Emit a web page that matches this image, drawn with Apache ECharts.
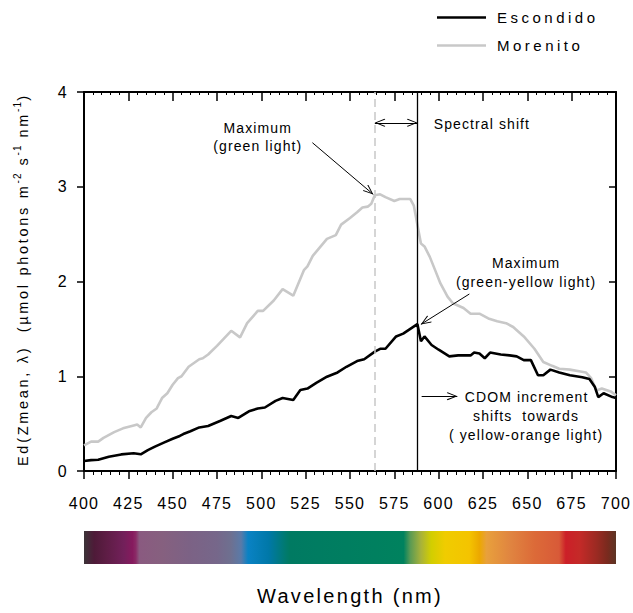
<!DOCTYPE html>
<html><head><meta charset="utf-8">
<script src="https://cdn.jsdelivr.net/npm/echarts@6/dist/echarts.min.js"></script>
<style>
html,body{margin:0;padding:0;background:#fff;}
#chart{width:633px;height:613px;}
#chart text[style*="15px"]{letter-spacing:3.5px;}
#chart text[style*="16px"]{letter-spacing:1.3px;}
#chart text[style*=" 14px"]{letter-spacing:1.1px;}
#chart text[style*="20px"]{letter-spacing:2.3px;}
#chart text[style*="14.5px"]{letter-spacing:2.7px;}
#chart text[style*="10px"]{letter-spacing:1.2px;}
</style>
</head><body><div id="chart"></div>
<script>
// ---- data ----
const xTicks = [400,425,450,475,500,525,550,575,600,625,650,675,700];
const yTicks = [0,1,2,3,4];

const escondidoWl = [400,404,408,414,421,428,432,436,440,445,450,454,456,460,465,470,477,483,487,493,498,502,508,512,518,522,526,531,537,543,548,554,558,564,567,570,576,580,584,588,590,592,596,600,606,611,618,620,623,626,629,635,640,644,648,652,656,659,663,668,674,681,685,688,690,693,698,700];
const escondidoEd = [0.105,0.115,0.118,0.15,0.175,0.187,0.176,0.22,0.257,0.30,0.34,0.37,0.39,0.42,0.46,0.475,0.53,0.58,0.56,0.63,0.66,0.67,0.74,0.77,0.75,0.855,0.87,0.93,0.995,1.04,1.10,1.16,1.18,1.26,1.29,1.29,1.42,1.45,1.50,1.55,1.37,1.42,1.33,1.28,1.21,1.22,1.22,1.25,1.24,1.19,1.25,1.23,1.22,1.21,1.17,1.17,1.01,1.01,1.07,1.04,1.01,0.99,0.97,0.89,0.78,0.82,0.78,0.77];

const morenitoWl = [400,404,408,411,417,422,428,430,432,435,438,441,444,447,450,453,455,459,465,467,470,475,483,488,492,498,501,507,512,518,524,526,529,533,537,542,545,550,554,557,560,562,564,567,570,575,578,584,586,588,590,592,595,598,601,605,608,614,618,623,628,633,638,642,648,654,659,664,668,674,680,683,686,689,692,697,700];
const morenitoEd = [0.27,0.31,0.31,0.35,0.41,0.45,0.48,0.49,0.46,0.56,0.62,0.66,0.77,0.82,0.91,0.98,1.00,1.10,1.18,1.19,1.23,1.32,1.48,1.41,1.56,1.69,1.69,1.80,1.92,1.85,2.12,2.16,2.27,2.36,2.45,2.49,2.60,2.67,2.73,2.78,2.79,2.82,2.91,2.92,2.89,2.85,2.87,2.87,2.80,2.60,2.40,2.37,2.26,2.12,1.98,1.84,1.77,1.72,1.66,1.66,1.61,1.58,1.56,1.52,1.42,1.29,1.15,1.11,1.08,1.07,1.05,1.04,0.98,0.85,0.87,0.84,0.80];

// peak markers (nm)
const greenPeakWl = 564;
const yellowPeakWl = 588;

// spectrum colour bar stops
const spectrumWl = [400,405.8,412.7,422.4,427.3,429.2,431.2,443.8,459.4,475,482.8,488.6,492.5,504.2,514,516,580.2,584,590,595.8,603.6,617.2,623,627,640.6,654.2,667.9,671.7,679.5,689.3,695.1,700];
const spectrumColor = ['#3c3438','#4e1a38','#5e1d45','#72205a','#861a5e','#8a2a66','#8a5a80','#86607f','#7c6285','#76678a','#6e7090','#5a7aa8','#0a82c4','#0078a8','#007a6c','#007a62','#00825e','#5a9a54','#a8b23a','#d2ce00','#f0cc00','#f4c400','#eca800','#e8a03c','#e08440','#dc6a38','#d85a38','#cc1f28','#c42a28','#9a2a22','#7a2a1e','#5c3424'];

// annotations (anchor in nm / Ed units)
const annotText = ['Maximum','(green light)','Spectral shift','Maximum','(green-yellow light)','CDOM increment','shifts  towards','( yellow-orange light)'];
const annotWl = [498,498,624.4,649.3,649.3,649.6,649.3,649.3];
const annotEd = [3.625,3.43,3.667,2.2,2.0,0.78,0.58,0.375];

// arrows: from -> to (nm, Ed)
const arrowFrom = [[528.8,3.465],[564,3.675],[617.3,1.868],[590.4,0.79]];
const arrowTo   = [[563.1,2.92],[588,3.675],[590.0,1.548],[610.5,0.79]];
const arrowBoth = [false,true,false,false];

// ---- chart ----
const FONT = 'Liberation Sans';
const chart = echarts.init(document.getElementById('chart'), null, {renderer:'svg', width:633, height:613});

const headPath = 'path://M5,0 L10,10 L9,10.8 L5,2.3 L1,10.8 L0,10 Z M5,-10.4 L5.001,-10.4 Z';
const arrowData = arrowFrom.map((f,i)=>[
  {coord:f, symbol: arrowBoth[i] ? headPath : 'none', symbolSize:[8,21]},
  {coord:arrowTo[i], symbol: headPath, symbolSize:[8,21]}
]);

const mctx = document.createElement('canvas').getContext('2d');
function measure(txt, size, ls){
  mctx.font = size + 'px "' + FONT + '"';
  if ('letterSpacing' in mctx) { mctx.letterSpacing = ls + 'px'; return mctx.measureText(txt).width; }
  return mctx.measureText(txt).width + ls * txt.length;
}
const yTitleParts = [['Ed(Zmean, λ)  (µmol photons m',0],['-2',1],[' s',0],['-1',1],[' nm',0],['-1',1],[')',0]];
let cursor = 0;
const yTitleChildren = yTitleParts.map(p=>{
  const sup = p[1]===1;
  const size = sup ? 10 : 14.5;
  const ls = sup ? 1.2 : 2.7;
  const el = {type:'text', x:cursor, y: sup ? -6 : 0, style:{text:p[0], fill:'#000', font: size+'px "'+FONT+'"', fontSize:size, fontFamily:FONT, textAlign:'left', textVerticalAlign:'middle', align:'left', verticalAlign:'middle'}};
  cursor += measure(p[0], size, ls);
  return el;
});

const stops = spectrumWl.map((w,i)=>({offset:(w-400)/300, color:spectrumColor[i]}));

const option = {
  animation:false,
  backgroundColor:'#fff',
  textStyle:{fontFamily:FONT},
  legend:{
    data:['Escondido','Morenito'], orient:'vertical', left:437, top:10,
    itemWidth:49, itemHeight:14, itemGap:13, padding:0,
    textStyle:{fontSize:15, color:'#000', fontFamily:FONT, padding:[0,0,0,6]},
    icon:'path://M0,0 L49,0 L49,2.6 L0,2.6 Z'
  },
  grid:[
    {left:84, right:17, top:92, bottom:142},
    {left:84, right:17, top:531, height:33}
  ],
  xAxis:[
    {type:'value', gridIndex:0, position:'bottom', min:xTicks[0], max:xTicks[xTicks.length-1], interval:xTicks[1]-xTicks[0],
     axisLine:{show:true, onZero:false, lineStyle:{color:'#000', width:2}},
     axisTick:{show:true, inside:false, length:8, lineStyle:{color:'#000', width:1.5}},
     minorTick:{show:true, splitNumber:5, length:4, lineStyle:{color:'#000', width:1}},
     axisLabel:{color:'#000', fontSize:16, fontFamily:FONT, margin:24},
     splitLine:{show:false}},
    {type:'value', gridIndex:0, position:'top', min:xTicks[0], max:xTicks[xTicks.length-1], interval:xTicks[1]-xTicks[0],
     axisLine:{show:true, onZero:false, lineStyle:{color:'#000', width:2}},
     axisTick:{show:true, inside:true, length:9, lineStyle:{color:'#000', width:1.5}},
     minorTick:{show:true, splitNumber:5, length:3, lineStyle:{color:'#000', width:1}},
     axisLabel:{show:false}, splitLine:{show:false}},
    {type:'value', gridIndex:1, min:400, max:700, name:'Wavelength (nm)', nameLocation:'middle', nameGap:22,
     nameTextStyle:{color:'#000', fontSize:20, fontFamily:FONT},
     axisLine:{show:false}, axisTick:{show:false}, axisLabel:{show:false}, splitLine:{show:false}}
  ],
  yAxis:[
    {type:'value', gridIndex:0, position:'left', min:yTicks[0], max:yTicks[yTicks.length-1], interval:yTicks[1]-yTicks[0],
     axisLine:{show:true, onZero:false, lineStyle:{color:'#000', width:2}},
     axisTick:{show:true, inside:false, length:7, lineStyle:{color:'#000', width:1.5}},
     axisLabel:{color:'#000', fontSize:16, fontFamily:FONT, margin:16},
     splitLine:{show:false}},
    {type:'value', gridIndex:0, position:'right', min:yTicks[0], max:yTicks[yTicks.length-1], interval:yTicks[1]-yTicks[0],
     axisLine:{show:true, onZero:false, lineStyle:{color:'#000', width:2}},
     axisTick:{show:true, inside:true, length:7, lineStyle:{color:'#000', width:1.5}},
     axisLabel:{show:false}, splitLine:{show:false}},
    {type:'value', gridIndex:1, min:0, max:1, show:false}
  ],
  graphic:[
    {type:'group', x:23, y:466, rotation:Math.PI/2, children:yTitleChildren}
  ],
  series:[
    {name:'Morenito', type:'line', xAxisIndex:0, yAxisIndex:0, z:2,
     data: morenitoWl.map((w,i)=>[w, morenitoEd[i]]),
     symbol:'none', showSymbol:false, color:'#c8c8c8',
     lineStyle:{color:'#c8c8c8', width:2.6},
     markLine:{silent:true, symbol:['none','none'], label:{show:false}, animation:false,
       lineStyle:{color:'#000', width:1, type:'solid'},
       emphasis:{disabled:true},
       data: arrowData}
    },
    {name:'Escondido', type:'line', xAxisIndex:0, yAxisIndex:0, z:3,
     data: escondidoWl.map((w,i)=>[w, escondidoEd[i]]),
     symbol:'none', showSymbol:false, color:'#000',
     lineStyle:{color:'#000', width:2.6},
     markLine:{silent:true, symbol:['none','none'], label:{show:false}, animation:false,
       emphasis:{disabled:true},
       data:[
         {xAxis:greenPeakWl, lineStyle:{color:'#c8c8c8', width:1.5, type:[8,5]}},
         {xAxis:yellowPeakWl, lineStyle:{color:'#000', width:1.3, type:'solid'}}
       ]}
    },
    {name:'annotations', type:'custom', xAxisIndex:0, yAxisIndex:0, z:5, silent:true, clip:false,
     data: annotWl.map((w,i)=>[w, annotEd[i]]),
     renderItem:(params, api)=>{
       const p = api.coord([api.value(0), api.value(1)]);
       return {type:'text', x:p[0], y:p[1], style:{text:annotText[params.dataIndex], fill:'#000', fontSize:14, fontFamily:FONT, align:'center', verticalAlign:'middle', textAlign:'center', textVerticalAlign:'middle'}};
     }},
    {name:'spectrum', type:'custom', xAxisIndex:2, yAxisIndex:2, silent:true,
     data:[[spectrumWl[0], spectrumWl[spectrumWl.length-1]]],
     renderItem:(params, api)=>{
       const a = api.coord([api.value(0), 1]);
       const b = api.coord([api.value(1), 0]);
       return {type:'rect', shape:{x:a[0], y:a[1], width:b[0]-a[0], height:b[1]-a[1]},
         style:{fill:new echarts.graphic.LinearGradient(0,0,1,0,stops)}};
     }}
  ]
};
chart.setOption(option);

const spacing = {'15px':3.5,'16px':1.3,'14px':1.1,'20px':2.3,'14.5px':2.7,'10px':1.2};
function applySpacing(){
  document.querySelectorAll('#chart svg text').forEach(t=>{
    const fs = getComputedStyle(t).fontSize;
    if (spacing[fs] != null) t.style.letterSpacing = spacing[fs] + 'px';
  });
}
chart.on('finished', applySpacing);
applySpacing();
setTimeout(applySpacing, 50);
</script>
</body></html>
